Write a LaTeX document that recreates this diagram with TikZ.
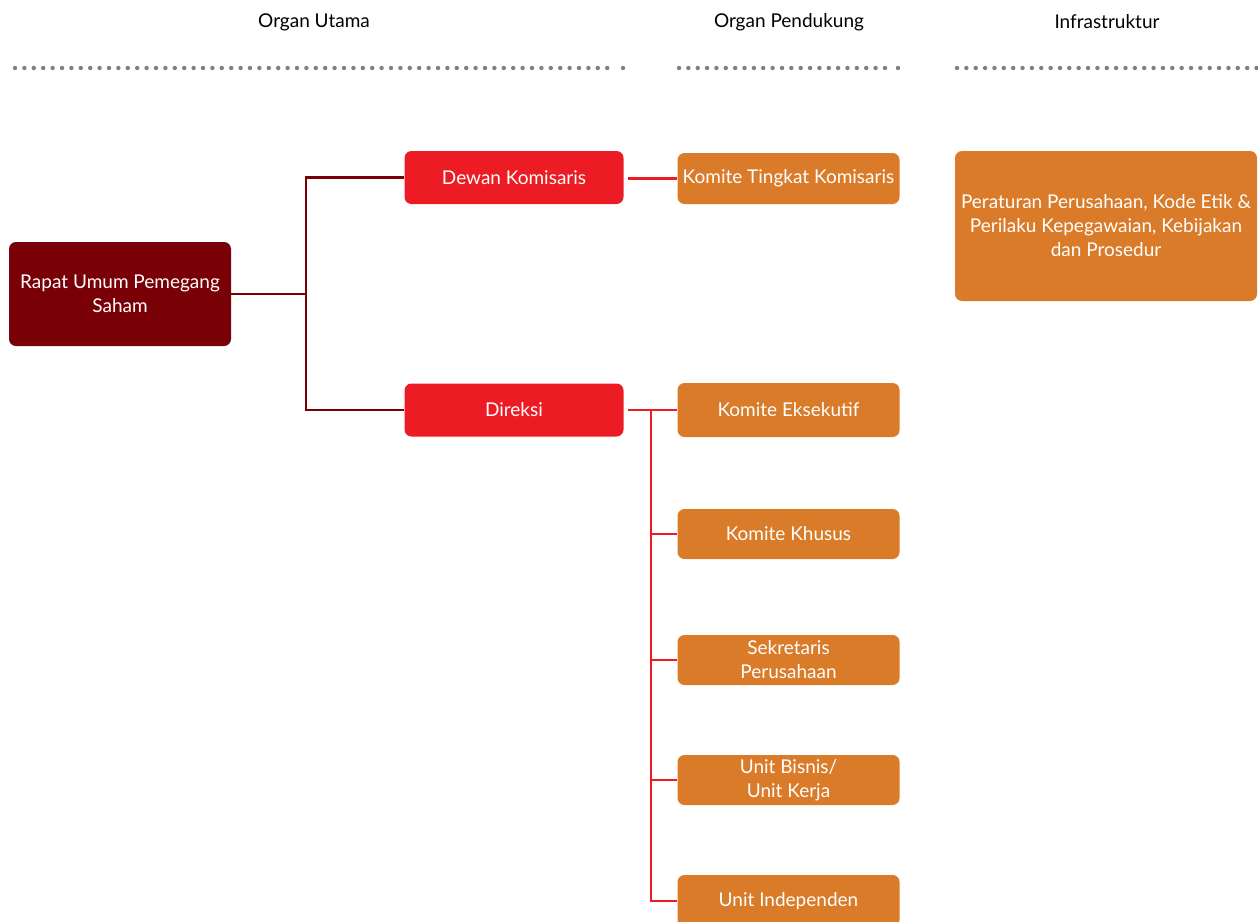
\documentclass[tikz,border=0pt]{standalone}
\usepackage{fontspec}
\setmainfont{Lato}
\definecolor{rupsred}{HTML}{7A0008}
\definecolor{mainred}{HTML}{ED1C24}
\definecolor{supportorange}{HTML}{DA7B29}
\definecolor{dotgray}{HTML}{7F7F7F}
\tikzset{
  box/.style={rounded corners=7pt, minimum height=#1, align=center, text=white,
              inner sep=0pt, font=\fontsize{19}{24}\selectfont},
  box/.default=52pt,
  rupsbox/.style={box=104pt, fill=rupsred, minimum width=222pt},
  mainbox/.style={box=53pt, fill=mainred, minimum width=219pt},
  supbox/.style={box=51pt, fill=supportorange, minimum width=222pt},
  header/.style={font=\fontsize{19}{22}\selectfont, text=black},
  rupsline/.style={draw=rupsred, line width=2.5pt},
  redline/.style={draw=mainred, line width=2.5pt},
  dotrow/.style={fill=dotgray}
}
\begin{document}
\begin{tikzpicture}[x=1pt,y=-1pt]
  \useasboundingbox (0,0) rectangle (1258,921);

  % column headings
  \node[header] (hUtama) at (314,22) {Organ Utama};
  \node[header] (hPendukung) at (789,22) {Organ Pendukung};
  \node[header] (hInfra) at (1107,22) {Infrastruktur};

  % dotted rules below the headings
  \foreach \i in {0,...,63} \fill[dotrow] (15+\i*9.4,68) circle (2.2pt);
  \fill[dotrow] (623,68) circle (2.2pt);
  \foreach \i in {0,...,22} \fill[dotrow] (679+\i*9.36,68) circle (2.2pt);
  \fill[dotrow] (898,68) circle (2.2pt);
  \foreach \i in {0,...,32} \fill[dotrow] (957+\i*9.36,68) circle (2.2pt);

  % main organs
  \node[rupsbox] (rups) at (120,294) {Rapat Umum Pemegang\\Saham};
  \node[mainbox] (dekom) at (514,177.5) {Dewan Komisaris};
  \node[mainbox] (direksi) at (514,410) {Direksi};

  % supporting organs
  \node[supbox] (ktk) at (788.5,178.5) {Komite Tingkat Komisaris};
  \node[supbox, minimum height=54pt] (keks) at (788.5,410) {Komite Eksekutif};
  \node[supbox, minimum height=50pt] (kkhs) at (788.5,534) {Komite Khusus};
  \node[supbox, minimum height=50pt] (sekper) at (788.5,660) {Sekretaris\\Perusahaan};
  \node[supbox, minimum height=50pt] (ubis) at (788.5,780) {Unit Bisnis/\\Unit Kerja};
  \node[supbox, minimum height=52pt] (uind) at (788.5,901) {Unit Independen};

  % infrastructure
  \node[box=150pt, fill=supportorange, minimum width=302pt] (infra) at (1106,226)
    {Peraturan Perusahaan, Kode Etik \&\\Perilaku Kepegawaian, Kebijakan\\dan Prosedur};

  % RUPS to Dewan Komisaris and Direksi
  \coordinate (rbus) at (306,294);
  \draw[rupsline] (rups.east) -- (rbus);
  \draw[rupsline] (dekom.west) -- (dekom.west -| rbus) -- (direksi.west -| rbus) -- (direksi.west);

  % Dewan Komisaris to its committee
  \draw[redline] ([xshift=4pt]dekom.east |- ktk.west) -- (ktk.west);

  % Direksi to supporting organs
  \coordinate (dbus) at (651,410);
  \draw[redline] ([xshift=4pt]direksi.east) -- (keks.west);
  \draw[redline] (dbus) -- (dbus |- uind.west) -- (uind.west);
  \foreach \n in {kkhs,sekper,ubis}
    \draw[redline] (dbus |- \n.west) -- (\n.west);
\end{tikzpicture}
\end{document}
